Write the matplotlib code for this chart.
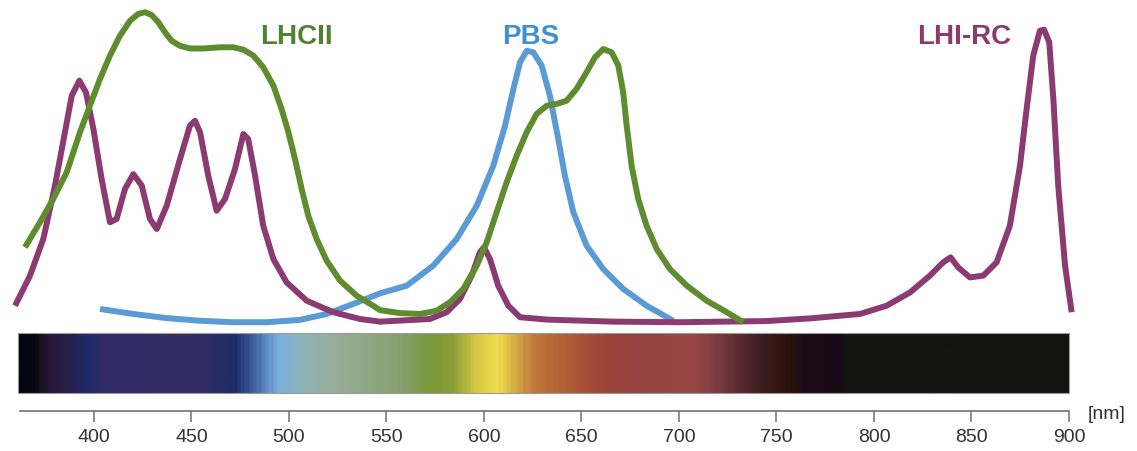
import numpy as np
import matplotlib.pyplot as plt
from matplotlib.colors import LinearSegmentedColormap

plt.rcParams['font.family'] = ['Liberation Sans', 'DejaVu Sans']

# absorbance spectra (arbitrary units)
lhcii_nm = [364.6, 372.3, 379.1, 386.0, 392.8, 397.9, 403.1, 408.2, 413.3, 418.5, 422.7, 426.2,
            429.6, 433.0, 436.4, 439.8, 444.1, 449.2, 456.1, 464.6, 471.4, 476.6, 481.7, 486.8,
            492.0, 496.2, 499.7, 503.1, 506.5, 509.9, 514.2, 519.3, 526.2, 534.7, 543.2, 546.7,
            556.9, 567.2, 575.7, 582.6, 589.4, 596.3, 601.4, 606.5, 611.6, 616.8, 621.9, 627.0,
            632.2, 637.3, 642.4, 647.5, 652.6, 656.9, 661.2, 665.5, 668.9, 671.4, 673.2, 675.7,
            679.1, 683.4, 688.6, 695.4, 704.0, 714.2, 724.5, 733.0]
lhcii_abs = [0.260, 0.345, 0.424, 0.514, 0.650, 0.740, 0.831, 0.910, 0.977, 1.028, 1.051, 1.057,
             1.047, 1.023, 0.989, 0.960, 0.943, 0.934, 0.934, 0.938, 0.938, 0.930, 0.910, 0.870,
             0.808, 0.729, 0.650, 0.559, 0.458, 0.367, 0.288, 0.215, 0.147, 0.096, 0.062, 0.047,
             0.037, 0.034, 0.045, 0.074, 0.119, 0.198, 0.277, 0.379, 0.480, 0.571, 0.650, 0.712,
             0.740, 0.746, 0.757, 0.797, 0.853, 0.904, 0.932, 0.921, 0.876, 0.785, 0.672, 0.537,
             0.424, 0.333, 0.254, 0.186, 0.130, 0.079, 0.040, 0.006]

pbs_nm = [403.1, 420.2, 437.3, 454.4, 471.4, 488.6, 505.6, 519.3, 533.0, 546.7, 560.4, 574.0,
          586.0, 596.3, 604.8, 610.8, 615.1, 618.5, 621.9, 625.3, 629.6, 633.8, 638.1, 641.5,
          645.8, 652.6, 661.2, 671.4, 683.4, 697.1]
pbs_abs = [0.051, 0.034, 0.020, 0.011, 0.006, 0.006, 0.014, 0.034, 0.068, 0.104, 0.130, 0.198,
           0.288, 0.401, 0.537, 0.672, 0.797, 0.887, 0.926, 0.921, 0.876, 0.774, 0.627, 0.503,
           0.379, 0.266, 0.186, 0.119, 0.062, 0.011]

lhi_nm = [359.5, 367.2, 374.0, 380.0, 385.1, 388.6, 392.5, 395.9, 399.7, 403.9, 408.2, 411.6,
          415.9, 420.2, 424.5, 428.7, 432.2, 437.3, 444.1, 449.2, 451.8, 454.4, 458.6, 462.9,
          467.2, 472.3, 476.6, 479.1, 482.6, 486.8, 492.0, 498.8, 509.1, 522.7, 536.4, 546.7,
          572.3, 580.9, 587.7, 593.7, 597.9, 600.0, 603.1, 607.3, 612.5, 618.5, 632.2, 666.3,
          700.5, 745.0, 767.2, 792.8, 806.5, 818.5, 828.7, 835.5, 839.3, 843.2, 849.2, 856.1,
          862.9, 869.7, 874.9, 878.3, 881.7, 885.1, 887.2, 889.9, 892.0, 894.5, 898.0, 901.4]
lhi_abs = [0.062, 0.164, 0.288, 0.469, 0.650, 0.774, 0.825, 0.785, 0.661, 0.492, 0.345, 0.356,
           0.458, 0.508, 0.469, 0.356, 0.322, 0.401, 0.559, 0.672, 0.689, 0.650, 0.503, 0.384,
           0.424, 0.525, 0.644, 0.627, 0.503, 0.333, 0.220, 0.141, 0.079, 0.040, 0.017, 0.008,
           0.017, 0.040, 0.085, 0.164, 0.243, 0.260, 0.220, 0.130, 0.062, 0.023, 0.015, 0.008,
           0.006, 0.010, 0.019, 0.034, 0.062, 0.107, 0.164, 0.209, 0.226, 0.192, 0.158, 0.164,
           0.209, 0.333, 0.537, 0.729, 0.910, 0.994, 0.998, 0.955, 0.763, 0.469, 0.198, 0.040]

# visible spectrum colour stops for the bar
spec_nm = [361, 369, 372, 376, 386, 396, 403, 454, 471, 480, 493, 506, 523, 540, 557, 571, 583,
           596, 607, 615, 625, 634, 651, 663, 685, 707, 720, 731, 743, 757, 764, 784, 786, 900]
spec_col = ['#05050f', '#080812', '#1c1424', '#251835', '#25204a', '#1e2c6a', '#302a68',
            '#332c66', '#1e2c66', '#3c5a9a', '#78aee0', '#90b4b8', '#98ae98', '#8fa882',
            '#88a070', '#7a9a3a', '#8a9c35', '#d8cc45', '#f2dc50', '#d8b045', '#c07a3a',
            '#b86a36', '#a85038', '#9a4238', '#934343', '#9a4646', '#7a3a3e', '#5c2a30',
            '#3c1c20', '#2a1208', '#1c0c1a', '#1a0a18', '#151610', '#131310']

ticks = [400, 450, 500, 550, 600, 650, 700, 750, 800, 850, 900]

fig = plt.figure(figsize=(11.37, 4.52), dpi=100)
ax = fig.add_axes([0, 0, 1, 1])
ax.set_xlim(351.8, 934.9)
ax.set_ylim(-0.4305, 1.1017)

# spectrum bar
lo, hi = spec_nm[0], spec_nm[-1]
stops = [((n - lo) / (hi - lo), c) for n, c in zip(spec_nm, spec_col)]
cmap = LinearSegmentedColormap.from_list('spec', stops)
ax.imshow(np.linspace(0, 1, 600).reshape(1, -1), cmap=cmap, aspect='auto',
          extent=(lo, hi, -0.234, -0.032), interpolation='bilinear', zorder=1)
ax.add_patch(plt.Rectangle((lo, -0.234), hi - lo, 0.202, fill=False,
                           edgecolor='#9a9a9a', linewidth=0.8, zorder=2))

lw = 4.3
style = dict(lw=lw, solid_capstyle='butt', solid_joinstyle='round')
ax.plot(pbs_nm, pbs_abs, color='#5b9bd5', zorder=3, **style)
ax.plot(lhi_nm, lhi_abs, color='#8b3a72', zorder=4, **style)
ax.plot(lhcii_nm, lhcii_abs, color='#5f8c2e', zorder=5, **style)

ax.text(485.1, 0.976, 'LHCII', color='#4f8130', fontsize=20, fontweight='bold', ha='left', va='center')
ax.text(609.2, 0.976, 'PBS', color='#3f8fd2', fontsize=20, fontweight='bold', ha='left', va='center')
ax.text(822.1, 0.976, 'LHI-RC', color='#8b3a6e', fontsize=20, fontweight='bold', ha='left', va='center')

# wavelength axis
for s in ['top', 'left', 'right']:
    ax.spines[s].set_visible(False)
ax.spines['bottom'].set_position(('data', -0.2949))
ax.spines['bottom'].set_bounds(362, 900)
ax.spines['bottom'].set_color('#707070')
ax.spines['bottom'].set_linewidth(1.2)
ax.set_xticks(ticks)
ax.set_yticks([])
ax.tick_params(axis='x', direction='out', length=8, width=1.1, color='#707070',
               pad=4, labelsize=14, labelcolor='#333333')
ax.text(909.7, -0.305, '[nm]', color='#333333', fontsize=14, ha='left', va='center')

fig.savefig('out.png', dpi=100)
